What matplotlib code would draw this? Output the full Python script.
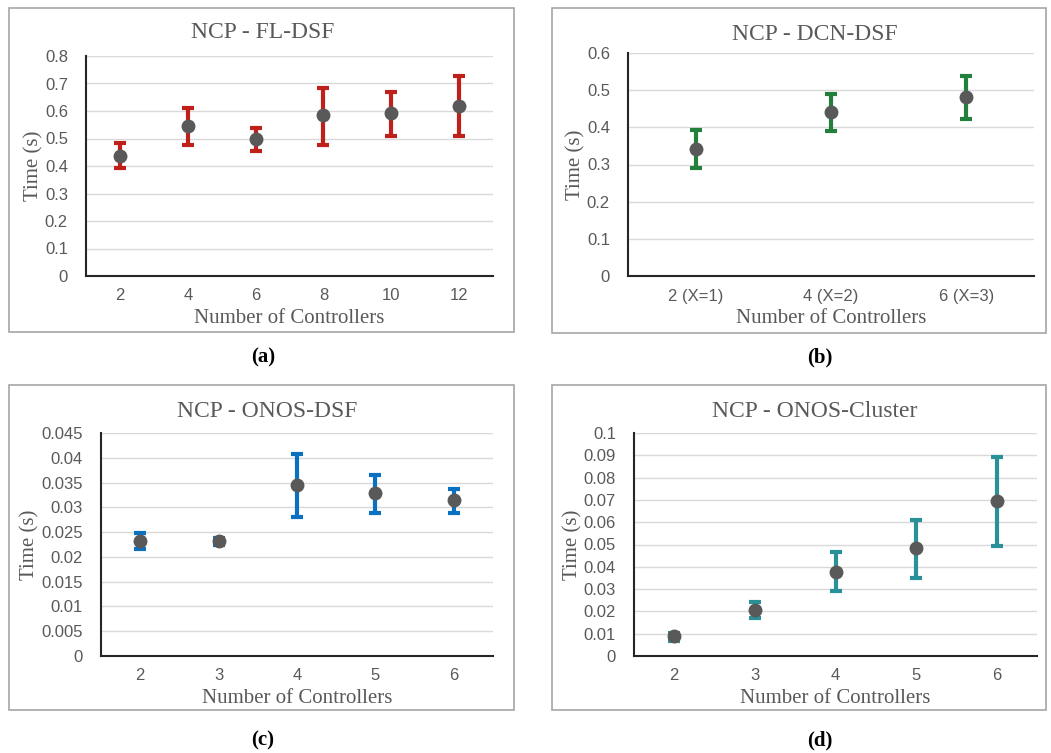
import matplotlib.pyplot as plt
from matplotlib.patches import Rectangle
from matplotlib.ticker import FuncFormatter
import numpy as np

W, H = 1051, 753

# (a) NCP - FL-DSF
a_labels = ["2", "4", "6", "8", "10", "12"]
a_mean = [0.437, 0.546, 0.499, 0.584, 0.592, 0.620]
a_low = [0.391, 0.476, 0.455, 0.476, 0.508, 0.508]
a_high = [0.482, 0.612, 0.539, 0.684, 0.669, 0.729]

# (b) NCP - DCN-DSF
b_labels = ["2 (X=1)", "4 (X=2)", "6 (X=3)"]
b_mean = [0.343, 0.442, 0.481]
b_low = [0.291, 0.389, 0.422]
b_high = [0.394, 0.490, 0.537]

# (c) NCP - ONOS-DSF
c_labels = ["2", "3", "4", "5", "6"]
c_mean = [0.0233, 0.0233, 0.0346, 0.0328, 0.0314]
c_low = [0.0216, 0.0225, 0.0280, 0.0288, 0.0288]
c_high = [0.0248, 0.0238, 0.0408, 0.0365, 0.0337]

# (d) NCP - ONOS-Cluster
d_labels = ["2", "3", "4", "5", "6"]
d_mean = [0.0088, 0.0208, 0.0378, 0.0483, 0.0694]
d_low = [0.0069, 0.0170, 0.0291, 0.0350, 0.0493]
d_high = [0.0105, 0.0242, 0.0466, 0.0611, 0.0892]

fig = plt.figure(figsize=(W / 100, H / 100), dpi=100)

gray_txt = "#595959"
serif = "Liberation Serif"


def fx(px):
    return px / W


def fy(py):
    return 1 - py / H


def panel(box, axbox, title, title_xy, cap, cap_xy, labels, mean, low, high,
          color, ymax, ystep):
    x0, y0, x1, y1 = box
    fig.patches.append(Rectangle((fx(x0), fy(y1)), fx(x1 - x0), (y1 - y0) / H,
                                 transform=fig.transFigure, fill=False,
                                 edgecolor="#a6a6a6", linewidth=1.2))
    l, t, r, b = axbox
    ax = fig.add_axes([fx(l), fy(b), fx(r - l), (b - t) / H])
    x = np.arange(len(labels))
    mean = np.array(mean)
    yerr = [mean - np.array(low), np.array(high) - mean]
    ax.errorbar(x, mean, yerr=yerr, fmt="o", color="#595959", ms=9,
                ecolor=color, elinewidth=3, capsize=4, capthick=3, zorder=3)
    ax.set_xlim(-0.5, len(labels) - 0.5)
    ax.set_ylim(0, ymax)
    ax.set_yticks(np.arange(0, ymax + ystep / 2, ystep))
    ax.yaxis.set_major_formatter(FuncFormatter(lambda v, p: "%g" % round(v, 4)))
    ax.set_xticks(x)
    ax.set_xticklabels(labels)
    ax.tick_params(length=0, labelsize=12, labelcolor=gray_txt,
                   labelfontfamily="Liberation Sans")
    ax.tick_params(axis="x", pad=9)
    ax.tick_params(axis="y", pad=13)
    ax.grid(axis="y", color="#d9d9d9", linewidth=1)
    ax.set_axisbelow(True)
    for s in ["top", "right"]:
        ax.spines[s].set_visible(False)
    for s in ["left", "bottom"]:
        ax.spines[s].set_color("#262626")
        ax.spines[s].set_linewidth(1.5)
    ax.set_xlabel("Number of Controllers", family=serif, fontsize=15,
                  color=gray_txt, labelpad=4)
    ax.set_ylabel("Time (s)", family=serif, fontsize=15,
                  color=gray_txt, labelpad=1)
    fig.text(fx(title_xy[0]), fy(title_xy[1]), title, family=serif,
             fontsize=17, color=gray_txt, ha="center", va="center")
    fig.text(fx(cap_xy[0]), fy(cap_xy[1]), cap, family=serif,
             fontsize=15, fontweight="bold", ha="center", va="center")
    return ax


panel((9, 8, 514, 332), (86, 56, 493, 276), "NCP - FL-DSF", (263, 33),
      "(a)", (263, 357), a_labels, a_mean, a_low, a_high, "#c0201a", 0.8, 0.1)
panel((552, 8, 1046, 333), (628, 53, 1034, 276), "NCP - DCN-DSF", (815, 35),
      "(b)", (820, 357), b_labels, b_mean, b_low, b_high, "#23803c", 0.6, 0.1)
panel((9, 385, 514, 710), (101, 433, 493, 656), "NCP - ONOS-DSF", (267, 412),
      "(c)", (263, 740), c_labels, c_mean, c_low, c_high, "#0a70c0", 0.045, 0.005)
panel((552, 385, 1046, 710), (634, 433, 1037, 656), "NCP - ONOS-Cluster", (815, 412),
      "(d)", (820, 740), d_labels, d_mean, d_low, d_high, "#2a9199", 0.1, 0.01)

fig.savefig("out.png", dpi=100)
